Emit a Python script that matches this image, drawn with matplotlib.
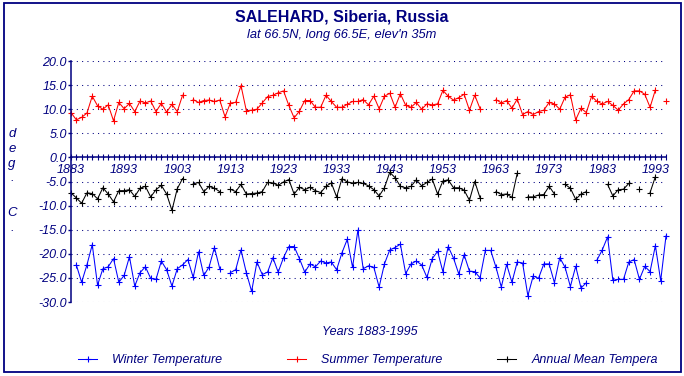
import numpy as np
import matplotlib
matplotlib.use('Agg')
import matplotlib.pyplot as plt
from matplotlib.patches import Rectangle

nan = np.nan
years = np.arange(1883, 1996)

# summer temperatures, one row per decade starting 1883
summer = [
    9.3, 7.8, 8.3, 9.2, 12.7, 10.7, 10.0, 10.9, 7.6, 11.4,
    10.1, 11.2, 9.5, 11.7, 11.3, 11.7, 9.5, 11.2, 9.4, 11.0,
    9.5, 12.9, nan, 12.0, 11.4, 11.8, 11.9, 11.6, 11.9, 8.4,
    11.3, 11.4, 14.9, 9.7, 9.8, 10.0, 11.3, 12.6, 12.9, 13.4,
    13.8, 10.8, 8.2, 9.6, 11.8, 11.8, 10.4, 10.4, 12.9, 11.6,
    10.4, 10.4, 11.0, 11.6, 11.6, 12.0, 10.9, 12.7, 10.1, 12.7,
    13.3, 10.4, 13.2, 10.8, 10.4, 11.4, 10.0, 11.1, 10.9, 11.1,
    13.9, 12.7, 11.9, 12.4, 13.1, 9.8, 12.9, 10.1, nan, nan,
    12.0, 11.3, 11.8, 10.2, 12.1, 8.9, 9.5, 8.9, 9.5, 9.8,
    11.4, 11.1, 10.0, 12.5, 13.0, 7.8, 10.2, 9.3, 12.7, 11.6,
    11.1, 11.6, 10.8, 9.8, 11.1, 12.0, 13.8, 13.8, 13.1, 10.4,
    14.0, nan, 11.8,
]

annual = [
    -7.35, -8.4, -9.5, -7.35, -7.5, -8.6, -6.3, -7.6, -9.2, -6.9,
    -6.9, -6.7, -8.1, -6.4, -6.0, -8.2, -6.7, -5.8, -7.6, -11.0,
    -6.5, -4.4, nan, -5.5, -5.2, -7.1, -6.0, -6.4, -7.1, nan,
    -6.6, -7.1, -5.6, -7.6, -7.5, -7.4, -7.1, -5.2, -5.3, -5.8,
    -5.1, -4.6, -7.6, -6.2, -6.7, -6.2, -6.9, -7.3, -6.0, -5.3,
    -8.2, -4.4, -5.1, -5.3, -5.2, -5.4, -5.9, -6.7, -8.0, -6.3,
    -3.1, -4.2, -6.0, -6.3, -6.0, -4.65, -5.9, -5.2, -4.5, -7.6,
    -4.9, -4.65, -6.3, -6.3, -6.8, -8.9, -5.0, -8.4, nan, nan,
    -7.1, -7.7, -7.6, -8.3, -3.3, nan, -8.2, -8.2, -7.8, -7.7,
    -6.0, -7.6, nan, -5.6, -6.4, -8.7, -7.6, -7.1, nan, nan,
    nan, -5.6, -8.0, -6.7, -6.6, -5.4, nan, -6.5, nan, -7.3,
    -4.0, nan, nan,
]

winter = [
    nan, -22.3, -25.9, -22.3, -18.1, -26.5, -23.1, -22.7, -21.0, -25.9,
    -24.5, -20.6, -26.7, -23.9, -22.7, -25.1, -25.3, -21.5, -23.3, -26.7,
    -23.1, -22.3, -21.2, -24.9, -19.6, -24.5, -22.7, -18.7, -23.1, nan,
    -23.9, -23.3, -19.2, -23.9, -27.8, -21.7, -24.3, -23.8, -20.8, -23.8,
    -20.8, -18.5, -18.5, -21.0, -23.8, -22.1, -22.7, -21.5, -21.9, -21.7,
    -23.3, -19.8, -17.0, -22.8, -15.1, -23.1, -22.5, -22.8, -26.9, -22.1,
    -19.2, -18.7, -18.0, -24.1, -22.1, -21.5, -22.3, -24.9, -21.0, -19.5,
    -23.7, -18.5, -20.9, -24.2, -20.2, -23.6, -23.7, -25.0, -19.3, -19.3,
    -22.8, -26.9, -22.2, -25.9, -21.7, -21.9, -28.7, -24.6, -25.1, -22.1,
    -22.1, -26.0, -20.8, -22.8, -26.8, -22.6, -27.1, -26.0, nan, -21.3,
    -19.2, -16.5, -25.5, -25.3, -25.3, -21.7, -21.2, -25.3, -22.6, -23.7,
    -18.3, -25.6, -16.3,
]

yticks = [20, 15, 10, 5, 0, -5, -10, -15, -20, -25, -30]
label_years = list(range(1883, 1996, 10))

navy = '#000080'
plt.rcParams['font.family'] = ['Liberation Sans', 'DejaVu Sans']

W, H = 684, 376
fig = plt.figure(figsize=(W / 100, H / 100), dpi=100)
fig.patch.set_facecolor('white')

# plot area: y axis at x=71, right end at 666, 20 at y=61, -30 at y=302
ax = fig.add_axes([71 / W, 1 - 302 / H, (666 - 71) / W, (302 - 61) / H])
ax.set_xlim(1883, 1995)
ax.set_ylim(-30, 20)

for s in ['top', 'right']:
    ax.spines[s].set_visible(False)
ax.spines['left'].set_color(navy)
ax.spines['left'].set_linewidth(1.1)
ax.spines['bottom'].set_position(('data', 0))
ax.spines['bottom'].set_color(navy)
ax.spines['bottom'].set_linewidth(1.1)

ax.set_yticks(yticks)
ax.set_yticklabels([f'{v:.1f}' for v in yticks], fontsize=9, style='italic', color=navy)
ax.tick_params(axis='y', direction='out', length=2.5, width=1, color=navy, pad=0.5)

ax.set_xticks(years)
ax.set_xticklabels([str(y) if y in label_years else '' for y in years],
                   fontsize=9, style='italic', color=navy)
ax.tick_params(axis='x', direction='inout', length=4.5, width=0.8, color=navy, pad=2.5)

ax.grid(axis='y', color=navy, linestyle=(0, (1, 4.1)), linewidth=0.75)
ax.set_axisbelow(True)

kw = dict(lw=0.75, marker='+', ms=4, mew=0.8, clip_on=False)
h_w, = ax.plot(years, winter, color='#0000ff', **kw)
h_s, = ax.plot(years, summer, color='#ff0000', **kw)
h_a, = ax.plot(years, annual, color='black', **kw)

# titles
fig.text(342 / W, 1 - 17 / H, 'SALEHARD, Siberia, Russia', ha='center', va='center',
         fontsize=11.5, fontweight='bold', color=navy)
fig.text(342 / W, 1 - 35 / H, "lat 66.5N, long 66.5E, elev'n 35m", ha='center', va='center',
         fontsize=9.3, style='italic', color=navy)
fig.text(370 / W, 1 - 332 / H, 'Years 1883-1995', ha='center', va='center',
         fontsize=9, style='italic', color=navy)

# stacked y label
for ch, yp in zip(['d', 'e', 'g', '.', 'C', '.'], [134, 149, 164, 178, 213, 228]):
    fig.text(12 / W, 1 - yp / H, ch, ha='center', va='center', fontsize=9.5,
             style='italic', color=navy)

# legend entries
entries = [(h_w, 'Winter Temperature', 78), (h_s, 'Summer Temperature', 287),
           (h_a, 'Annual Mean Tempera', 497)]
for h, lab, xp in entries:
    fig.legend(handles=[h], labels=[lab], loc='center left',
               bbox_to_anchor=(xp / W, 1 - 360 / H), frameon=False,
               handlelength=1.55, handletextpad=1.2, borderpad=0, borderaxespad=0,
               prop={'size': 9, 'style': 'italic'}, labelcolor=navy)

# outer border
fig.patches.append(Rectangle((4 / W, 4 / H), 677 / W, 369 / H, transform=fig.transFigure,
                             fill=False, edgecolor=navy, linewidth=1.3))

fig.savefig('out.png', dpi=100, facecolor='white')
